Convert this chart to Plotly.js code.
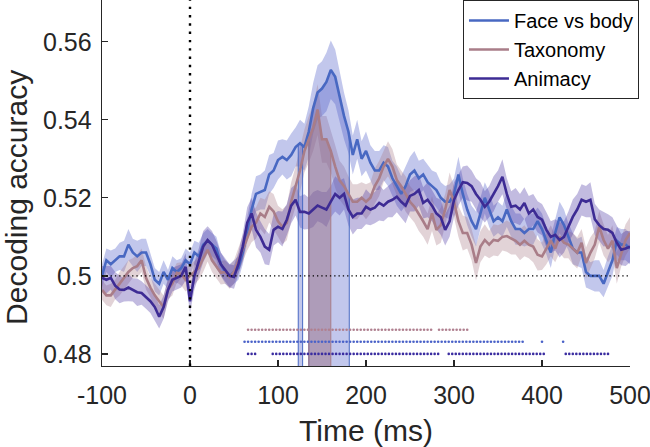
<!DOCTYPE html>
<html>
<head>
<meta charset="utf-8">
<script src="https://cdn.plot.ly/plotly-3.0.1.min.js"></script>
<style>html,body{margin:0;padding:0;background:#fff;}#chart{width:650px;height:447px;}</style>
</head>
<body>
<div id="chart"></div>
<script>
// ---- data (time grid: -100 .. 500 ms, 5 ms step) ----
const tStart = -100, tStep = 5;
const faceMean = [
0.500,0.504,0.503,0.504,0.505,0.505,0.508,0.506,0.505,0.506,
0.506,0.503,0.499,0.498,0.501,0.499,0.502,0.501,0.502,0.504,
0.503,0.506,0.505,0.508,0.509,0.508,0.507,0.503,0.501,0.500,
0.501,0.502,0.506,0.512,0.517,0.521,0.5215,0.522,0.526,0.527,
0.5297,0.5305,0.5297,0.531,0.533,0.534,0.533,0.537,0.543,0.547,
0.548,0.5497,0.5528,0.551,0.546,0.541,0.537,0.531,0.535,0.530,
0.532,0.529,0.527,0.527,0.529,0.528,0.525,0.523,0.521,0.523,
0.526,0.527,0.525,0.526,0.524,0.523,0.522,0.520,0.519,0.519,
0.521,0.526,0.521,0.517,0.514,0.512,0.516,0.520,0.517,0.514,
0.515,0.514,0.517,0.514,0.512,0.512,0.511,0.512,0.512,0.514,
0.512,0.509,0.506,0.511,0.515,0.513,0.510,0.507,0.506,0.506,
0.501,0.500,0.500,0.500,0.498,0.501,0.504,0.509,0.508,0.508,
0.507];
const faceSem = [
0.003,0.003,0.0035,0.003,0.0035,0.004,0.004,0.0035,0.004,0.0035,
0.0035,0.003,0.003,0.003,0.003,0.0025,0.003,0.003,0.0025,0.003,
0.003,0.003,0.0035,0.003,0.003,0.003,0.003,0.003,0.003,0.003,
0.003,0.003,0.003,0.0035,0.004,0.0045,0.0045,0.005,0.005,0.0045,
0.005,0.0045,0.005,0.0055,0.005,0.006,0.006,0.0065,0.0065,0.007,
0.007,0.0075,0.0075,0.007,0.0065,0.006,0.0055,0.005,0.005,0.0045,
0.005,0.0045,0.005,0.005,0.0045,0.005,0.0045,0.005,0.0045,0.005,
0.0045,0.005,0.0045,0.004,0.0045,0.004,0.0045,0.004,0.004,0.0045,
0.004,0.0045,0.004,0.004,0.004,0.0045,0.004,0.004,0.0045,0.004,
0.004,0.004,0.0045,0.004,0.004,0.004,0.0035,0.004,0.004,0.0035,
0.004,0.0035,0.004,0.0035,0.004,0.004,0.0035,0.004,0.0035,0.004,
0.004,0.0035,0.004,0.004,0.0035,0.004,0.004,0.0035,0.004,0.004,
0.004];
const taxMean = [
0.4964,0.495,0.495,0.4965,0.498,0.4995,0.501,0.502,0.5025,0.504,
0.4995,0.497,0.495,0.4935,0.492,0.4965,0.498,0.5008,0.5005,0.499,
0.500,0.5008,0.502,0.5045,0.5067,0.504,0.5023,0.5008,0.501,0.4997,
0.501,0.504,0.507,0.510,0.5126,0.5136,0.516,0.5151,0.5177,0.5165,
0.514,0.5126,0.5136,0.519,0.523,0.527,0.532,0.535,0.538,0.5426,
0.535,0.535,0.532,0.528,0.5245,0.523,0.521,0.519,0.519,0.520,
0.519,0.520,0.523,0.525,0.528,0.530,0.528,0.5246,0.523,0.521,
0.519,0.5177,0.516,0.514,0.512,0.516,0.5118,0.513,0.517,0.522,
0.519,0.514,0.511,0.511,0.508,0.5033,0.5075,0.5092,0.508,0.5092,
0.509,0.510,0.5102,0.5095,0.509,0.508,0.509,0.508,0.5075,0.5054,
0.505,0.507,0.509,0.507,0.510,0.5085,0.508,0.507,0.5059,0.5085,
0.5033,0.5059,0.508,0.5126,0.5092,0.507,0.509,0.502,0.5059,0.5092,
0.511];
const taxSem = [
0.0025,0.0025,0.003,0.0025,0.003,0.003,0.003,0.0025,0.003,0.003,
0.003,0.0025,0.003,0.003,0.003,0.0025,0.003,0.0025,0.003,0.003,
0.003,0.003,0.003,0.0035,0.003,0.003,0.003,0.003,0.003,0.003,
0.003,0.003,0.0035,0.0035,0.004,0.004,0.004,0.0045,0.004,0.0045,
0.004,0.0045,0.0045,0.005,0.005,0.0055,0.0055,0.006,0.006,0.0065,
0.006,0.006,0.0055,0.0055,0.005,0.005,0.0045,0.0045,0.0045,0.004,
0.0045,0.004,0.0045,0.0045,0.004,0.0045,0.0045,0.004,0.004,0.0045,
0.004,0.004,0.0045,0.004,0.004,0.0045,0.004,0.0045,0.004,0.0045,
0.004,0.004,0.0045,0.004,0.004,0.0045,0.004,0.004,0.0035,0.004,
0.004,0.0035,0.004,0.004,0.0035,0.004,0.004,0.0035,0.004,0.004,
0.0035,0.004,0.004,0.0035,0.004,0.004,0.0035,0.004,0.004,0.0035,
0.004,0.004,0.0035,0.004,0.004,0.0035,0.004,0.004,0.0035,0.004,
0.004];
const animMean = [
0.4995,0.499,0.4995,0.4975,0.4965,0.4964,0.497,0.4964,0.4958,0.4956,
0.4946,0.4935,0.492,0.4895,0.492,0.4964,0.499,0.4995,0.500,0.5023,
0.4935,0.500,0.5035,0.5075,0.5092,0.508,0.5055,0.503,0.5015,0.500,
0.4997,0.503,0.5075,0.5136,0.516,0.5118,0.510,0.5075,0.5067,0.5118,
0.5126,0.512,0.5144,0.518,0.5195,0.5164,0.5164,0.516,0.517,0.518,
0.5175,0.517,0.519,0.521,0.520,0.521,0.517,0.5151,0.516,0.516,
0.5177,0.517,0.5175,0.5187,0.518,0.519,0.5195,0.5203,0.519,0.518,
0.5205,0.521,0.522,0.5187,0.5195,0.518,0.516,0.515,0.5118,0.514,
0.5195,0.522,0.524,0.5238,0.523,0.521,0.5195,0.5177,0.519,0.521,
0.523,0.5254,0.521,0.5177,0.518,0.517,0.5187,0.516,0.517,0.5151,
0.5144,0.5118,0.510,0.5105,0.5092,0.510,0.5125,0.5151,0.517,0.5195,
0.519,0.5195,0.5145,0.513,0.512,0.5118,0.511,0.5085,0.5067,0.507,
0.5075];
const animSem = [
0.003,0.0035,0.003,0.0035,0.0035,0.003,0.0035,0.003,0.0035,0.003,
0.003,0.003,0.0035,0.003,0.003,0.003,0.003,0.003,0.003,0.0035,
0.003,0.0035,0.0035,0.004,0.0035,0.0035,0.0035,0.003,0.003,0.003,
0.003,0.003,0.0035,0.004,0.004,0.0045,0.004,0.0045,0.004,0.004,
0.004,0.0045,0.004,0.0045,0.004,0.004,0.0045,0.004,0.0045,0.004,
0.004,0.0045,0.004,0.0045,0.0045,0.004,0.004,0.0045,0.004,0.004,
0.0045,0.004,0.004,0.0045,0.004,0.004,0.0045,0.004,0.004,0.0045,
0.004,0.0045,0.004,0.004,0.0045,0.004,0.004,0.0045,0.004,0.004,
0.0045,0.004,0.004,0.0045,0.004,0.004,0.0045,0.004,0.004,0.0045,
0.004,0.0045,0.004,0.004,0.0045,0.004,0.004,0.0045,0.004,0.004,
0.004,0.0045,0.004,0.004,0.0045,0.004,0.004,0.0045,0.004,0.004,
0.004,0.0045,0.004,0.004,0.0045,0.004,0.004,0.0045,0.004,0.0045,
0.004];

// peak-latency confidence intervals (ms)
const ciFacePeak = [135, 181];
const ciTaxPeak = [135, 160];
const ciFaceEarly = [123, 128];

// significant time windows (ms), sampled every 4 ms
const sigStep = 4;
const sigTax = [[66, 277], [283, 317]];
const sigFace = [[62, 381], [400, 400], [424, 424]];
const sigAnim = [[66, 76], [94, 285], [294, 405], [427, 476]];
const sigRowY = { tax: 0.4862, face: 0.4831, anim: 0.4800 };

const seriesNames = ['Face vs body', 'Taxonomy', 'Animacy'];
const xTicks = [-100, 0, 100, 200, 300, 400, 500];
const yTicks = [0.48, 0.50, 0.52, 0.54, 0.56];
const yTickText = ['0.48', '0.5', '0.52', '0.54', '0.56'];
const chanceLevel = 0.5;
const xRange = [-100, 500];
const yRange = [0.4769, 0.5707];

// ---- styling ----
const FONT = 'Liberation Sans, Arial, Helvetica, sans-serif';
const INK = '#262626';
const col = {
  face: { line: '#4868c2', band: 'rgba(80,95,200,0.35)', ci: 'rgba(80,95,200,0.35)', dot: '#4a62c8' },
  tax:  { line: '#a97d88', band: 'rgba(168,120,135,0.33)', ci: 'rgba(150,105,125,0.45)', dot: '#b08090' },
  anim: { line: '#3d2b94', band: 'rgba(70,50,160,0.33)', dot: '#3a2ca0' }
};

const times = faceMean.map((_, i) => tStart + i * tStep);

function bandTrace(mean, sem, fill) {
  const up = mean.map((m, i) => m + sem[i]);
  const lo = mean.map((m, i) => m - sem[i]);
  return {
    x: times.concat(times.slice().reverse()),
    y: up.concat(lo.slice().reverse()),
    type: 'scatter', mode: 'lines', fill: 'toself', fillcolor: fill,
    line: { width: 0 }, hoverinfo: 'skip', showlegend: false
  };
}
function valueAt(mean, t) {
  const f = (t - tStart) / tStep;
  const i = Math.floor(f), r = f - i;
  if (i >= mean.length - 1) return mean[mean.length - 1];
  return mean[i] * (1 - r) + mean[i + 1] * r;
}
function ciTrace(ci, mean, fill, lineColor) {
  const xs = [ci[0], ci[0]], ys = [yRange[0], valueAt(mean, ci[0])];
  times.forEach((t, i) => { if (t > ci[0] && t < ci[1]) { xs.push(t); ys.push(mean[i]); } });
  xs.push(ci[1], ci[1]); ys.push(valueAt(mean, ci[1]), yRange[0]);
  return {
    x: xs, y: ys, type: 'scatter', mode: 'lines', fill: 'toself', fillcolor: fill,
    line: { width: 1, color: lineColor }, hoverinfo: 'skip', showlegend: false
  };
}
function sigTrace(segs, yv, color) {
  const xs = [];
  segs.forEach(s => { for (let t = s[0]; t <= s[1] + 0.01; t += sigStep) xs.push(t); });
  return {
    x: xs, y: xs.map(() => yv), type: 'scatter', mode: 'markers',
    marker: { size: 2.6, color: color }, hoverinfo: 'skip', showlegend: false
  };
}
function lineTrace(mean, name, color) {
  return { x: times, y: mean, type: 'scatter', mode: 'lines', name: name,
           line: { color: color, width: 2.6 }, showlegend: true };
}

const traces = [
  bandTrace(faceMean, faceSem, col.face.band),
  bandTrace(taxMean, taxSem, col.tax.band),
  bandTrace(animMean, animSem, col.anim.band),
  ciTrace(ciFaceEarly, faceMean, col.face.ci, col.face.line),
  ciTrace(ciFacePeak, faceMean, col.face.ci, col.face.line),
  ciTrace(ciTaxPeak, taxMean, col.tax.ci, col.tax.line),
  sigTrace(sigTax, sigRowY.tax, col.tax.dot),
  sigTrace(sigFace, sigRowY.face, col.face.dot),
  sigTrace(sigAnim, sigRowY.anim, col.anim.dot),
  lineTrace(faceMean, seriesNames[0], col.face.line),
  lineTrace(taxMean, seriesNames[1], col.tax.line),
  lineTrace(animMean, seriesNames[2], col.anim.line)
];

const axisCommon = {
  showline: true, linecolor: INK, linewidth: 1.3, mirror: false,
  ticks: 'inside', ticklen: 6, tickwidth: 1.3, tickcolor: INK,
  showgrid: false, zeroline: false, ticklabeloverflow: 'allow',
  tickfont: { family: FONT, size: 25, color: INK }
};

const layout = {
  width: 650, height: 447,
  margin: { l: 102, r: 20, t: 0, b: 81, pad: 0 },
  paper_bgcolor: '#ffffff', plot_bgcolor: '#ffffff',
  font: { family: FONT, color: INK },
  xaxis: Object.assign({}, axisCommon, {
    range: xRange, tickmode: 'array', tickvals: xTicks,
    ticktext: xTicks.map(String), ticklabelstandoff: 7,
    title: { text: 'Time (ms)', font: { family: FONT, size: 30, color: INK }, standoff: 14 }
  }),
  yaxis: Object.assign({}, axisCommon, {
    range: yRange, tickmode: 'array', tickvals: yTicks, ticktext: yTickText,
    ticklabelstandoff: 4
  }),
  shapes: [
    { type: 'line', xref: 'x', yref: 'y', x0: xRange[0], x1: xRange[1], y0: chanceLevel, y1: chanceLevel,
      line: { color: '#000', width: 1.3, dash: '1.3px,3px' }, layer: 'above' },
    { type: 'line', xref: 'x', yref: 'paper', x0: 0, x1: 0, y0: 0, y1: 1,
      line: { color: '#000', width: 2.4, dash: '2.4px,5.9px' }, layer: 'above' }
  ],
  annotations: [
    { text: 'Decoding accuracy', xref: 'paper', yref: 'paper', x: -0.161, y: 0.462,
      xanchor: 'center', yanchor: 'middle', textangle: -90, showarrow: false,
      font: { family: FONT, size: 30, color: INK } }
  ],
  legend: {
    x: 1.017, y: 1, xanchor: 'right', yanchor: 'top',
    bgcolor: '#ffffff', bordercolor: INK, borderwidth: 1,
    font: { family: FONT, size: 20, color: '#000' },
    tracegroupgap: 0, itemwidth: 40
  },
  showlegend: true
};

Plotly.newPlot('chart', traces, layout, { displayModeBar: false, staticPlot: true });
</script>
</body>
</html>
